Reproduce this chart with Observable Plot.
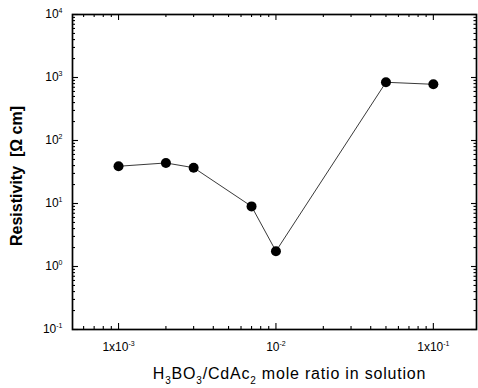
<!DOCTYPE html>
<html><head><meta charset="utf-8">
<script src="https://cdn.jsdelivr.net/npm/d3@7"></script>
<script src="https://cdn.jsdelivr.net/npm/@observablehq/plot@0.6"></script>
<style>body{margin:0;background:#fff}</style>
</head><body><div id="chart"></div>
<script>
// Data
const ratio = [0.001, 0.002, 0.003, 0.007, 0.01, 0.05, 0.1];
const resistivity = [39, 44, 37, 9, 1.75, 840, 780];

// Tick values and labels: [base, superscript]
const yTickValues = [0.1, 1, 10, 100, 1000, 10000];
const yTickLabels = [["10", "-1"], ["10", "0"], ["10", "1"], ["10", "2"], ["10", "3"], ["10", "4"]];
const xTickValues = [0.001, 0.01, 0.1];
const xTickLabels = [["1x10", "-3"], ["10", "-2"], ["1x10", "-1"]];

// Axis titles: [text, isSubscript]
const xLabelParts = [["H", false], ["3", true], ["BO", false], ["3", true], ["/CdAc", false], ["2", true], [" mole ratio in solution", false]];
const yLabel = "Resistivity  [\u03A9 cm]";

const W = 478, H = 388, mL = 72, mR = 2, mT = 14, mB = 59;
const pw = W - mL - mR, ph = H - mT - mB;
const xDomain = [5.1e-4, 0.188], yDomain = [0.1, 1e4];

function minorTicks(lo, hi) {
  const out = [];
  for (let e = Math.floor(Math.log10(lo)); e <= Math.ceil(Math.log10(hi)); e++) {
    for (let m = 2; m <= 9; m++) {
      const v = m * Math.pow(10, e);
      if (v > lo && v < hi) out.push(v);
    }
  }
  return out;
}
const yMinor = minorTicks(yDomain[0], yDomain[1]);
const xMinor = minorTicks(xDomain[0], xDomain[1]);

const data = ratio.map((r, i) => ({r, v: resistivity[i]}));
const xLabelText = xLabelParts.map(p => p[0]).join("");

const tickStyle = {stroke: "#000", strokeWidth: 1.1};
const plot = Plot.plot({
  width: W, height: H,
  marginLeft: mL, marginRight: mR, marginTop: mT, marginBottom: mB,
  style: {fontFamily: "'Liberation Sans', Arial, sans-serif", background: "#fff", color: "#000"},
  x: {type: "log", domain: xDomain},
  y: {type: "log", domain: yDomain},
  marks: [
    Plot.tickY(yTickValues, {y: d => d, insetRight: pw - 6, ...tickStyle}),
    Plot.tickY(yTickValues, {y: d => d, insetLeft: pw - 5, ...tickStyle}),
    Plot.tickY(yMinor, {y: d => d, insetRight: pw - 3, ...tickStyle}),
    Plot.tickY(yMinor, {y: d => d, insetLeft: pw - 2.5, ...tickStyle}),
    Plot.tickX(xTickValues, {x: d => d, insetTop: ph - 6, ...tickStyle}),
    Plot.tickX(xTickValues, {x: d => d, insetBottom: ph - 6, ...tickStyle}),
    Plot.tickX(xMinor, {x: d => d, insetTop: ph - 3, ...tickStyle}),
    Plot.tickX(xMinor, {x: d => d, insetBottom: ph - 3, ...tickStyle}),
    Plot.frame({stroke: "#000", strokeWidth: 1.7}),
    Plot.line(data, {x: "r", y: "v", stroke: "#222", strokeWidth: 0.9}),
    Plot.dot(data, {x: "r", y: "v", r: 5, fill: "#000", stroke: "none"}),
    Plot.axisY({ticks: yTickValues, tickSize: 0, tickPadding: 10, label: null,
      tickFormat: (d) => yTickLabels[yTickValues.indexOf(d)].join("|")}),
    Plot.axisX({ticks: xTickValues, tickSize: 0, tickPadding: 13, label: null,
      tickFormat: (d) => xTickLabels[xTickValues.indexOf(d)].join("|")}),
    Plot.text([yLabel], {frameAnchor: "left", text: d => d, rotate: -90, dx: -56, dy: 4, textAnchor: "middle", lineAnchor: "middle", fontWeight: "bold", fontSize: 16}),
    Plot.text([xLabelText], {frameAnchor: "bottom", text: d => d, dx: 15, dy: 44, textAnchor: "middle", lineAnchor: "middle", fontSize: 16})
  ]
});
document.getElementById("chart").appendChild(plot);

// Rich text: superscripts in tick labels
const svg = d3.select(plot);
svg.selectAll("[aria-label$='tick label'] text").each(function () {
  const t = d3.select(this);
  const s = t.text();
  if (!s.includes("|")) return;
  const [base, sup] = s.split("|");
  t.text(null).style("font-size", "12px");
  t.append("tspan").text(base);
  t.append("tspan").attr("dy", "-5").style("font-size", "7px").text(sup);
});
// Subscripts in x title
svg.selectAll("text").filter(function () { return d3.select(this).text() === xLabelText; }).each(function () {
  const t = d3.select(this);
  t.text(null).style("letter-spacing", "0.8px");
  for (const [txt, sub] of xLabelParts) {
    const ts = t.append("tspan").text(txt);
    if (sub) ts.attr("dy", "5").style("font-size", "10px");
    else ts.attr("dy", t.selectAll("tspan").size() > 1 ? "-5" : "0");
  }
});
</script>
</body></html>
